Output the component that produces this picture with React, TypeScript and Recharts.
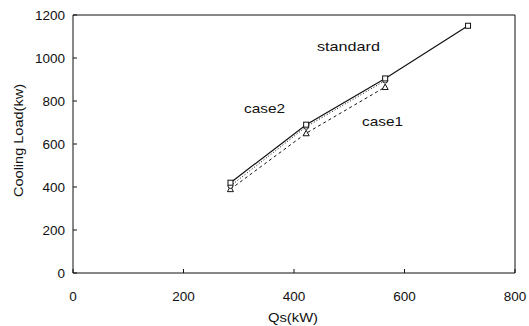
import React from "react";
import {
  ComposedChart,
  Line,
  XAxis,
  YAxis,
  ReferenceArea,
} from "recharts";

const qs = [285, 422, 565, 715];
const standardLoad = [420, 690, 905, 1150];
const case1Load = [390, 650, 865];
const case2Load = [405, 680, 895];
const xTicks = [0, 200, 400, 600, 800];
const yTicks = [0, 200, 400, 600, 800, 1000, 1200];

const toPoints = (ys: number[]) => ys.map((y, i) => ({ x: qs[i], y }));

const standardData = toPoints(standardLoad);
const case1Data = toPoints(case1Load);
const case2Data = toPoints(case2Load);

const font = "'Liberation Sans', Arial, sans-serif";

const SquareDot = (props: any) => {
  const { cx, cy } = props;
  if (cx == null || cy == null) return null;
  return <rect x={cx - 2.5} y={cy - 2.5} width={5} height={5} fill="#fff" stroke="#111" strokeWidth={1} />;
};

const TriangleDot = (props: any) => {
  const { cx, cy } = props;
  if (cx == null || cy == null) return null;
  return (
    <path
      d={`M${cx},${cy - 3} L${cx + 3},${cy + 2.5} L${cx - 3},${cy + 2.5} Z`}
      fill="#fff"
      stroke="#111"
      strokeWidth={1}
    />
  );
};

const CircleDot = (props: any) => {
  const { cx, cy } = props;
  if (cx == null || cy == null) return null;
  return <circle cx={cx} cy={cy} r={2.5} fill="#fff" stroke="#111" strokeWidth={1} />;
};

const YTick = (props: any) => {
  const { x, y, payload } = props;
  return (
    <g>
      <line x1={x + 8} y1={y} x2={x + 12} y2={y} stroke="#111" />
      <text x={x} y={y} dy={4.5} textAnchor="end" fontSize={13.5} fill="#111" fontFamily={font}>
        {payload.value}
      </text>
    </g>
  );
};

const XTick = (props: any) => {
  const { x, y, payload } = props;
  return (
    <g>
      <line x1={x} y1={y - 10} x2={x} y2={y - 14} stroke="#111" />
      <text x={x} y={y} dy={18} textAnchor="middle" fontSize={13.5} fill="#111" fontFamily={font}>
        {payload.value}
      </text>
    </g>
  );
};

export default function App() {
  return (
    <div style={{ position: "absolute", left: 0, top: 0, background: "#fff" }}>
      <ComposedChart
        width={529}
        height={326}
        margin={{ top: 15, right: 14, left: 13, bottom: 0 }}
      >
        <XAxis
          dataKey="x"
          type="number"
          domain={[0, 800]}
          ticks={xTicks}
          tickSize={0}
          tickMargin={10}
          tick={<XTick />}
          axisLine={false}
          height={53}
          allowDuplicatedCategory={false}
        />
        <YAxis
          type="number"
          domain={[0, 1200]}
          ticks={yTicks}
          tickSize={0}
          tickMargin={8}
          tick={<YTick />}
          axisLine={false}
          width={60}
        />
        <ReferenceArea
          x1={0}
          x2={800}
          y1={0}
          y2={1200}
          fill="none"
          stroke="#111"
          strokeWidth={1}
          ifOverflow="visible"
        />
        <Line
          data={case1Data}
          dataKey="y"
          type="linear"
          stroke="#111"
          strokeWidth={1}
          strokeDasharray="3 3"
          dot={<TriangleDot />}
          isAnimationActive={false}
        />
        <Line
          data={case2Data}
          dataKey="y"
          type="linear"
          stroke="#111"
          strokeWidth={1}
          strokeDasharray="1 2"
          dot={<CircleDot />}
          isAnimationActive={false}
        />
        <Line
          data={standardData}
          dataKey="y"
          type="linear"
          stroke="#111"
          strokeWidth={1.2}
          dot={<SquareDot />}
          isAnimationActive={false}
        />
        {/* axis titles, stretched a little like the scanned original */}
        <text x={268} y={322} fontSize={13.5} textLength={50} lengthAdjust="spacingAndGlyphs" fill="#111" fontFamily={font}>
          Qs(kW)
        </text>
        <text
          x={0}
          y={0}
          transform="translate(23,197) rotate(-90)"
          fontSize={13.5}
          textLength={113}
          lengthAdjust="spacingAndGlyphs"
          fill="#111"
          fontFamily={font}
        >
          Cooling Load(kw)
        </text>
        <text x={317} y={51} fontSize={13.5} textLength={63} lengthAdjust="spacingAndGlyphs" fill="#111" fontFamily={font}>
          standard
        </text>
        <text x={244} y={113} fontSize={13.5} textLength={41} lengthAdjust="spacingAndGlyphs" fill="#111" fontFamily={font}>
          case2
        </text>
        <text x={362} y={126} fontSize={13.5} textLength={41} lengthAdjust="spacingAndGlyphs" fill="#111" fontFamily={font}>
          case1
        </text>
      </ComposedChart>
    </div>
  );
}
